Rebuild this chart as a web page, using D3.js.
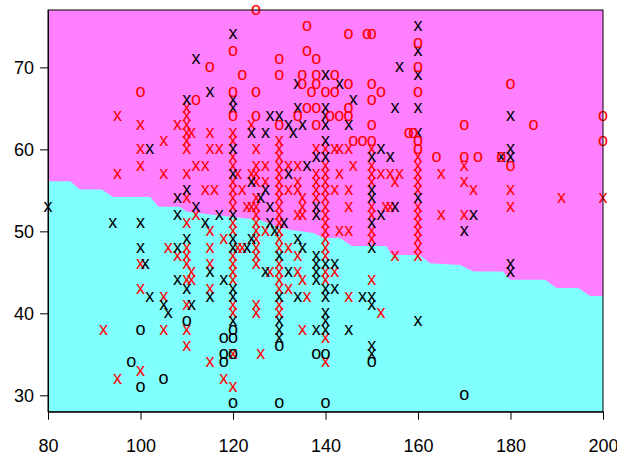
<!DOCTYPE html>
<html>
<head>
<meta charset="utf-8">
<script src="https://cdn.jsdelivr.net/npm/d3@7"></script>
<style>
  body { margin: 0; background: #fff; }
  text { font-family: "Liberation Sans", Arial, sans-serif; }
</style>
</head>
<body>
<div id="chart"></div>
<script>
// tick values
const xTicks = [80, 100, 120, 140, 160, 180, 200];
const yTicks = [30, 40, 50, 60, 70];

// decision boundary (below = cyan class, above = magenta class)
const boundary = [
  [80, 56.1], [84.8, 56.1], [86.9, 55.1], [91.6, 55.1], [94.1, 54.2], [102.1, 54.2],
  [103.9, 53.0], [108.5, 53.0], [110.0, 52.4], [116.1, 52.0], [125.8, 51.4], [129.5, 50.6],
  [132.3, 50.2], [137.4, 49.8], [139.5, 49.2], [143.1, 49.2], [145.7, 48.2], [153.2, 48.2],
  [154.3, 47.1], [160.4, 47.1], [162.6, 46.1], [169.1, 45.9], [172.0, 45.1], [178.4, 45.1],
  [179.9, 44.1], [187.5, 44.1], [190.0, 43.1], [194.7, 43.1], [197.2, 42.1], [200, 42.1]
];

// points: [x, y]
const redO = [
  [125,77],[136,75],[145,74],[149,74],[150,74],[160,73],[120,72],[136,72],[130,71],[138,71],
  [115,70],[160,70],[122,69],[130,69],[135,69],[138,69],[142,69],[135,68],[138,68],[145,68],
  [150,68],[180,68],[100,67],[120,67],[125,67],[137,67],[140,67],[142,67],[152,67],[160,67],
  [112,66],[150,66],[136,65],[138,65],[145,65],[120,64],[125,64],[134,64],[141,64],[143,64],
  [145,64],[200,64],[130,63],[138,63],[150,63],[170,63],[185,63],[158,62],[159,62],[146,61],
  [148,61],[150,61],[160,61],[200,61],[160,60],[164,59],[170,59],[173,59],[178,59],[180,58]
];

const blackO = [
  [100,38],[98,34],[105,32],[100,31],[110,39],[118,37],[118,35],[118,34],[120,38],[120,37],
  [120,35],[120,29],[130,36],[130,29],[138,35],[140,35],[140,29],[150,34],[170,30]
];

const blackX = [
  [160,75],[120,74],[160,72],[112,71],[156,70],[140,69],[160,69],[134,68],[143,68],[115,67],
  [110,66],[120,66],[146,66],[120,65],[134,65],[140,65],[155,65],[160,65],[128,64],[130,64],
  [140,64],[180,64],[132,63],[135,63],[140,63],[145,63],[124,62],[127,62],[133,62],[160,62],
  [140,61],[102,60],[120,60],[152,60],[180,60],[138,59],[140,59],[150,59],[154,59],[178,59],
  [180,59],[136,58],[120,57],[132,57],[124,56],[110,55],[127,55],[150,55],[126,54],[150,54],
  [160,54],[108,54],[112,53],[128,53],[138,53],[155,53],[117,52],[120,52],[138,52],[152,52],
  [172,52],[114,51],[128,51],[131,51],[150,51],[170,50],[129,50],[110,49],[120,49],[124,49],
  [134,49],[120,48],[123,48],[135,48],[150,48],[130,47],[138,47],[138,46],[140,46],[142,46],
  [180,46],[115,45],[127,45],[132,45],[138,45],[180,45],[118,44],[138,44],[110,43],[120,43],
  [142,43],[140,43],[115,42],[120,42],[134,42],[130,42],[140,42],[148,42],[150,42],[111,41],
  [150,41],[140,40],[120,39],[130,39],[140,39],[160,39],[130,38],[138,38],[140,38],[145,38],
  [130,37],[150,36],[150,35],
  [80,53],[94,51],[100,51],[108,52],[100,48],[108,48],[101,46],[108,44],[102,42],[105,41],[106,40]
];

const redX = [
  [95,64],[100,63],[108,63],[105,61],[100,60],[100,58],[95,57],[105,57],[106,48],[108,47],
  [100,46],[100,43],[105,42],[92,38],[105,38],[100,33],[95,32],
  [110,65],[110,64],[110,63],[110,62],[110,61],[110,60],[110,57],[110,54],[110,51],[110,48],
  [110,47],[110,46],[110,44],[110,41],[110,38],[110,36],[111,62],[111,45],[111,44],
  [115,62],[115,60],[117,60],[112,58],[114,58],[114,55],[116,55],[112,52],[115,50],[118,49],
  [115,48],[115,46],[115,43],[115,34],[118,32],[121,57],[124,57],[122,55],[123,53],[124,53],
  [121,48],[122,48],
  [120,62],[120,61],[120,59],[120,58],[120,56],[120,55],[120,54],[120,53],[120,51],[120,50],
  [120,47],[120,46],[120,45],[120,44],[120,41],[120,40],[120,35],[120,31],
  [124,63],[125,60],[125,58],[125,57],[125,56],[125,54],[125,53],[125,52],[125,51],[125,50],
  [125,49],[125,48],[125,47],[125,46],[125,41],[125,40],[126,35],
  [127,58],[127,56],[127,50],[128,45],
  [130,61],[130,60],[130,59],[130,58],[130,57],[130,56],[130,55],[130,54],[130,53],[130,52],
  [130,51],[130,50],[130,49],[130,48],[130,46],[130,45],[130,44],[130,43],[130,41],[130,40],
  [132,58],[132,55],[132,48],[132,43],[134,58],[134,56],[134,55],[134,52],[134,47],[134,45],
  [135,54],[135,53],[135,52],[135,44],[135,38],[136,42],[138,60],[138,57],[138,56],[138,55],
  [138,54],
  [140,60],[140,58],[140,57],[140,56],[140,55],[140,54],[140,53],[140,52],[140,51],[140,50],
  [140,49],[140,48],[140,47],[140,45],[140,44],[140,37],[140,34],
  [142,60],[143,60],[145,60],[146,58],[143,57],[142,55],[145,55],[145,53],[143,50],[145,50],
  [142,45],[145,42],
  [150,60],[150,58],[150,57],[150,56],[150,53],[150,52],[150,50],[150,49],[150,44],
  [152,57],[154,57],[156,57],[155,56],[153,53],[154,53],[155,47],[152,40],
  [160,59],[160,58],[160,57],[160,56],[160,55],[160,53],[160,52],[160,51],[160,50],[160,49],
  [160,48],[160,47],
  [165,57],[165,52],[170,58],[170,56],[172,55],[170,52],[180,55],[180,53],[191,54],[200,54]
];

// dimensions
const W = 617, H = 457;
const plotLeft = 48, plotRight = 603, plotTop = 10, plotBottom = 411.7;

const svg = d3.select("#chart")
  .append("svg")
  .attr("width", W)
  .attr("height", H);

const x = d3.scaleLinear().domain([80, 200]).range([plotLeft, plotRight]);
const y = d3.scaleLinear().domain([28, 77]).range([plotBottom, plotTop]);

// background regions
svg.append("rect")
  .attr("x", plotLeft).attr("y", plotTop)
  .attr("width", plotRight - plotLeft).attr("height", plotBottom - plotTop)
  .attr("fill", "#FF80FF");

svg.append("path")
  .datum(boundary)
  .attr("fill", "#80FFFF")
  .attr("d", d3.area()
    .x(d => x(d[0]))
    .y0(y(28))
    .y1(d => y(d[1])));

// points drawn as characters
function drawChars(data, ch, color) {
  svg.append("g")
    .selectAll("text")
    .data(data)
    .join("text")
    .attr("x", d => x(d[0]))
    .attr("y", d => y(d[1]))
    .attr("dy", "0.27em")
    .attr("text-anchor", "middle")
    .style("font-size", "18px")
    .attr("fill", color)
    .text(ch);
}

drawChars(redX, "x", "#FF0000");
drawChars(blackX, "x", "#000000");
drawChars(redO, "o", "#FF0000");
drawChars(blackO, "o", "#000000");

// box
svg.append("rect")
  .attr("x", plotLeft).attr("y", plotTop)
  .attr("width", plotRight - plotLeft).attr("height", plotBottom - plotTop)
  .attr("fill", "none")
  .attr("stroke", "#000")
  .attr("stroke-width", 1);

// axes
const xAxis = svg.append("g")
  .attr("transform", `translate(0,${plotBottom})`)
  .call(d3.axisBottom(x).tickValues(xTicks).tickSize(8).tickSizeOuter(0).tickPadding(20));

const yAxis = svg.append("g")
  .attr("transform", `translate(${plotLeft},0)`)
  .call(d3.axisLeft(y).tickValues(yTicks).tickSize(8).tickSizeOuter(0).tickPadding(6));

[xAxis, yAxis].forEach(g => {
  g.selectAll("text").style("font-size", "18px").attr("fill", "#000")
    .style("font-family", "'Liberation Sans', Arial, sans-serif");
  g.selectAll("line").attr("stroke", "#000");
  g.select(".domain").attr("stroke", "#000");
});
</script>
</body>
</html>
